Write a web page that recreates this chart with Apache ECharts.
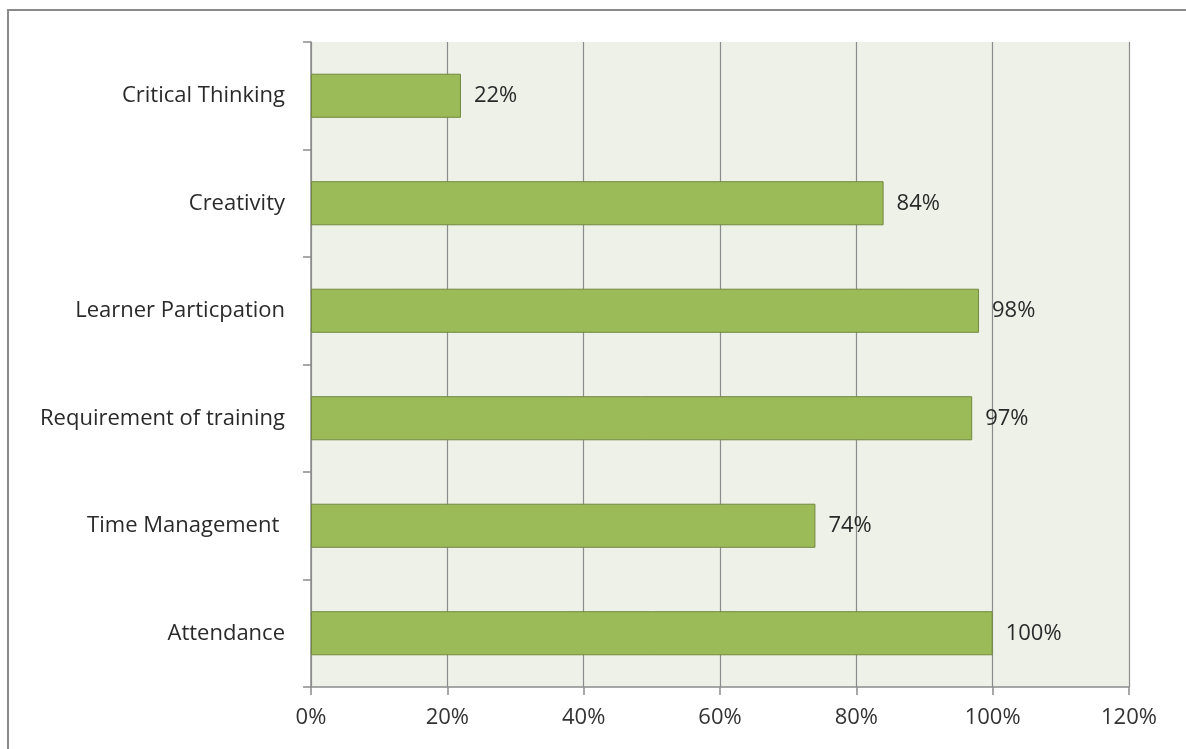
<!DOCTYPE html>
<html>
<head>
<meta charset="utf-8">
<script src="https://cdn.jsdelivr.net/npm/echarts@6/dist/echarts.min.js"></script>
<style>
	html, body { margin: 0; padding: 0; background: #fff; }
	#chart { width: 1186px; height: 749px; }
</style>
</head>
<body>
<div id="chart"></div>
<script>
// categories, bottom to top (ECharts category y axis starts at the bottom)
var categories = ['Attendance', 'Time Management ', 'Requirement of training', 'Learner Particpation', 'Creativity', 'Critical Thinking'];
var values = [100, 74, 97, 98, 84, 22];
var tickValues = [0, 20, 40, 60, 80, 100, 120];

var font = '"Open Sans", sans-serif';

var option = {
	backgroundColor: '#fff',
	animation: false,
	// outer frame, only top and left are visible in the picture
	graphic: [
		{ type: 'line', shape: { x1: 7, y1: 10, x2: 1186, y2: 10 }, style: { stroke: '#8a8a8a', lineWidth: 2 } },
		{ type: 'line', shape: { x1: 8, y1: 10, x2: 8, y2: 749 }, style: { stroke: '#8a8a8a', lineWidth: 2 } }
	],
	grid: {
		left: 311,
		right: 57,
		top: 42,
		bottom: 62,
		show: true,
		backgroundColor: '#eef1e8',
		borderWidth: 0
	},
	xAxis: {
		type: 'value',
		min: tickValues[0],
		max: tickValues[tickValues.length - 1],
		interval: 20,
		axisLine: { show: true, lineStyle: { color: '#8c8c8c', width: 1.5 } },
		axisTick: { show: true, length: 8, lineStyle: { color: '#8c8c8c', width: 1.5 } },
		splitLine: { show: true, lineStyle: { color: '#8c8c8c', width: 1.2 } },
		axisLabel: {
			margin: 20,
			color: '#333',
			fontSize: 22,
			fontFamily: font,
			formatter: function (v) { return v + '%'; }
		}
	},
	yAxis: {
		type: 'category',
		data: categories,
		axisLine: { show: true, lineStyle: { color: '#8c8c8c', width: 1.5 } },
		axisTick: { show: true, length: 8, inside: false, lineStyle: { color: '#8c8c8c', width: 1.5 } },
		axisLabel: {
			margin: 26,
			color: '#2a2a2a',
			fontSize: 22,
			fontFamily: font
		}
	},
	series: [{
		type: 'bar',
		data: values,
		barWidth: '41%',
		itemStyle: {
			color: '#9bbb59',
			borderColor: '#71893f',
			borderWidth: 1
		},
		label: {
			show: true,
			position: 'right',
			distance: 13,
			color: '#2a2a2a',
			fontSize: 22,
			fontFamily: font,
			formatter: function (p) { return p.value + '%'; }
		}
	}]
};

var chartDom = echarts.init(document.getElementById('chart'));
chartDom.setOption(option);
</script>
</body>
</html>
